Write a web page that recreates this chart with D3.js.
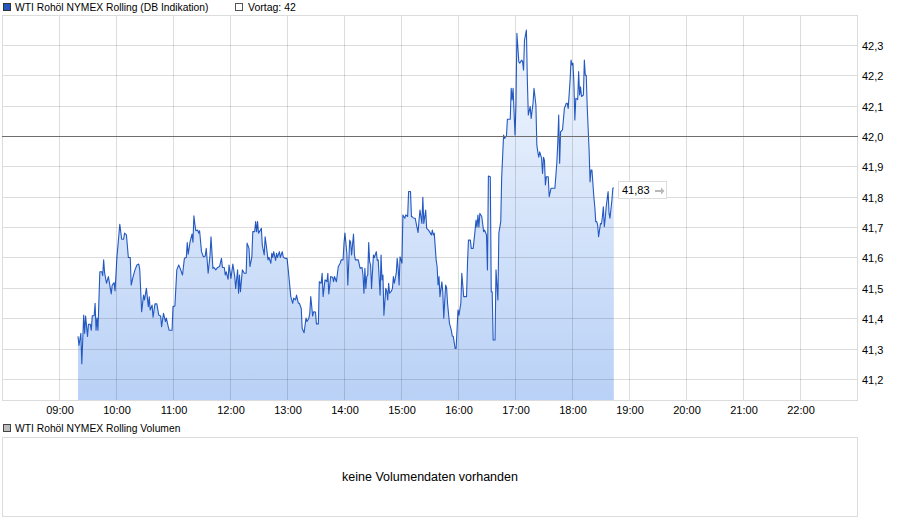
<!DOCTYPE html>
<html><head><meta charset="utf-8">
<script src="https://cdn.jsdelivr.net/npm/d3@7/dist/d3.min.js"></script>
<style>
html,body{margin:0;padding:0;background:#fff;}
svg{display:block;font-family:"Liberation Sans",Arial,sans-serif;}
</style></head>
<body>
<svg id="chart" width="900" height="526"></svg>
<script>
const seriesName = "WTI Rohöl NYMEX Rolling (DB Indikation)";
const prevName = "Vortag: 42";
const volumeName = "WTI Rohöl NYMEX Rolling Volumen";
const volumeNote = "keine Volumendaten vorhanden";
const prevClose = 42.0;
const lastLabel = "41,83";
const xTickLabels = ["09:00","10:00","11:00","12:00","13:00","14:00","15:00","16:00","17:00","18:00","19:00","20:00","21:00","22:00"];
const yTickValues = [41.2,41.3,41.4,41.5,41.6,41.7,41.8,41.9,42.0,42.1,42.2,42.3];

const times = [
"09:20","09:21","09:23","09:24","09:26","09:27","09:28","09:30","09:31","09:33","09:34","09:35","09:37","09:38","09:39","09:40","09:41","09:43","09:45","09:46","09:47","09:48","09:50","09:52","09:54","09:55","09:56","09:58","09:59",
"10:01","10:04","10:06","10:08","10:09","10:11","10:13","10:15","10:16","10:18","10:20","10:22","10:24","10:25","10:27","10:29","10:30","10:32","10:34","10:35","10:36","10:38","10:39","10:41","10:43","10:45","10:47","10:48","10:50","10:52","10:53","10:55","10:56","10:59",
"11:00","11:02","11:04","11:06","11:08","11:10","11:12","11:14","11:15","11:16","11:18","11:20","11:21","11:22","11:23","11:24","11:26","11:27","11:28","11:30","11:32","11:34","11:35","11:37","11:39","11:40","11:42","11:43","11:45","11:47","11:49","11:51","11:52","11:54","11:55","11:56","11:58","11:59",
"12:01","12:03","12:05","12:06","12:08","12:09","12:10","12:11","12:13","12:15","12:17","12:18","12:20","12:21","12:23","12:24","12:26","12:27","12:28","12:29","12:30","12:32","12:33","12:34","12:36","12:37","12:39","12:40","12:41","12:43","12:44","12:45","12:46","12:48","12:49","12:50","12:52","12:53","12:55","12:56","12:58",
"13:00","13:01","13:02","13:04","13:06","13:07","13:09","13:10","13:12","13:13","13:15","13:16","13:18","13:20","13:21","13:23","13:24","13:25","13:27","13:28","13:30","13:31","13:33","13:34","13:36","13:37","13:38","13:40","13:42","13:43","13:44","13:46","13:48","13:49","13:50","13:52","13:54","13:56","13:57","13:59",
"14:00","14:01","14:03","14:04","14:06","14:07","14:08","14:10","14:11","14:12","14:15","14:17","14:19","14:20","14:21","14:22","14:23","14:24","14:25","14:26","14:27","14:28","14:29","14:31","14:32","14:34","14:35","14:36","14:38","14:39","14:40","14:41","14:42","14:44","14:45","14:46","14:47","14:48","14:50","14:51","14:52","14:53","14:55","14:56","14:57","14:58","14:59",
"15:01","15:02","15:04","15:05","15:07","15:08","15:10","15:11","15:12","15:13","15:15","15:16","15:18","15:19","15:20","15:22","15:23","15:24","15:26","15:27","15:29","15:30","15:32","15:33","15:34","15:35","15:37","15:38","15:39","15:40","15:41","15:43","15:44","15:45","15:47","15:48","15:49","15:51","15:53","15:54","15:55","15:57","15:58",
"16:00","16:01","16:03","16:04","16:06","16:09","16:10","16:11","16:13","16:14","16:16","16:18","16:19","16:20","16:21","16:22","16:23","16:25","16:27","16:28","16:30","16:31","16:32","16:34","16:35","16:36","16:37","16:39","16:40","16:42","16:43","16:45","16:46","16:48","16:49","16:51","16:52","16:53","16:55","16:56","16:57","16:58",
"17:00","17:01","17:02","17:04","17:05","17:07","17:08","17:09","17:10","17:12","17:13","17:14","17:16","17:17","17:19","17:20","17:22","17:23","17:24","17:25","17:26","17:28","17:29","17:30","17:31","17:32","17:33","17:35","17:36","17:38","17:42","17:44","17:45","17:46","17:47","17:48","17:50","17:52","17:54","17:55","17:56","17:58","17:59",
"18:00","18:01","18:02","18:03","18:04","18:06","18:07","18:08","18:09","18:10","18:12","18:13","18:14","18:15","18:16","18:18","18:19","18:20","18:21","18:23","18:24","18:25","18:26","18:27","18:28","18:30","18:31","18:32","18:33","18:34","18:35","18:36","18:38","18:39","18:40","18:42","18:43","18:44"
];
const prices = [
41.34,41.31,41.35,41.25,41.41,41.35,41.407,41.34,41.38,41.38,41.36,41.408,41.408,41.449,41.36,41.40,41.36,41.553,41.553,41.54,41.592,41.549,41.515,41.537,41.498,41.48,41.509,41.517,41.49,
41.602,41.709,41.66,41.66,41.68,41.674,41.60,41.60,41.509,41.537,41.559,41.575,41.578,41.56,41.421,41.476,41.46,41.498,41.438,41.47,41.427,41.443,41.403,41.447,41.447,41.41,41.407,41.372,41.416,41.389,41.40,41.372,41.36,41.36,
41.438,41.44,41.559,41.575,41.56,41.542,41.597,41.60,41.649,41.611,41.652,41.677,41.65,41.737,41.71,41.688,41.69,41.68,41.688,41.619,41.602,41.605,41.63,41.548,41.608,41.668,41.564,41.567,41.559,41.567,41.57,41.597,41.567,41.567,41.542,41.553,41.528,41.575,
41.531,41.578,41.537,41.498,41.559,41.482,41.542,41.487,41.559,41.548,41.548,41.647,41.63,41.57,41.602,41.685,41.685,41.718,41.685,41.718,41.68,41.69,41.696,41.641,41.608,41.668,41.619,41.592,41.60,41.581,41.614,41.60,41.619,41.59,41.614,41.60,41.619,41.60,41.619,41.602,41.597,
41.597,41.57,41.537,41.471,41.449,41.466,41.46,41.476,41.449,41.449,41.432,41.366,41.352,41.40,41.389,41.40,41.416,41.471,41.407,41.421,41.42,41.381,41.381,41.52,41.515,41.548,41.471,41.526,41.52,41.548,41.48,41.537,41.535,41.52,41.537,41.52,41.57,41.581,41.592,41.592,
41.647,41.68,41.614,41.509,41.657,41.65,41.608,41.677,41.608,41.592,41.592,41.564,41.567,41.542,41.482,41.564,41.498,41.537,41.542,41.649,41.586,41.575,41.498,41.608,41.60,41.619,41.59,41.592,41.476,41.608,41.526,41.542,41.41,41.498,41.49,41.46,41.515,41.482,41.49,41.498,41.537,41.515,41.548,41.597,41.564,41.509,41.602,
41.581,41.74,41.729,41.74,41.735,41.817,41.817,41.734,41.734,41.73,41.729,41.712,41.682,41.723,41.756,41.712,41.798,41.712,41.756,41.696,41.69,41.685,41.674,41.69,41.674,41.68,41.592,41.57,41.509,41.537,41.471,41.52,41.487,41.40,41.509,41.50,41.449,41.383,41.36,41.341,41.34,41.30,41.30,
41.427,41.41,41.449,41.548,41.471,41.471,41.581,41.657,41.657,41.63,41.63,41.69,41.723,41.70,41.74,41.70,41.745,41.735,41.685,41.69,41.674,41.559,41.868,41.866,41.487,41.487,41.328,41.328,41.559,41.46,41.68,41.718,41.866,42.003,41.992,42.0,42.055,42.055,42.055,42.157,42.119,42.157,
42.003,42.102,42.338,42.245,42.24,42.25,42.245,42.217,42.316,42.349,42.184,42.069,42.097,42.058,42.108,42.157,42.102,41.97,41.948,41.93,41.948,41.927,41.877,41.93,41.92,41.839,41.866,41.866,41.80,41.828,41.828,41.91,41.976,42.069,41.91,42.014,42.02,42.091,42.108,42.108,42.091,42.184,42.25,
42.234,42.24,42.174,42.053,42.124,42.12,42.212,42.135,42.162,42.13,42.135,42.25,42.20,42.2,42.097,41.954,41.849,41.888,41.888,41.80,41.767,41.718,41.718,41.707,41.668,41.712,41.71,41.734,41.767,41.701,41.73,41.767,41.817,41.745,41.729,41.789,41.828,41.83
];

const parseT = d3.timeParse("%Y-%m-%d %H:%M");
const day = "2020-06-15";
const data = times.map((t,i)=>({t: parseT(day+" "+t), v: prices[i]}));

const svg = d3.select("#chart");
const L = 2, R = 858, T = 15, B = 401;

const x = d3.scaleTime()
  .domain([parseT(day+" 08:00"), parseT(day+" 23:00")])
  .range([2, 857]);
const y = d3.scaleLinear().domain([41.1271, 42.3986]).range([B, T]);

const defs = svg.append("defs");
const grad = defs.append("linearGradient").attr("id","ag")
  .attr("gradientUnits","userSpaceOnUse").attr("x1",0).attr("x2",0).attr("y1",T).attr("y2",B);
grad.append("stop").attr("offset","0%").attr("stop-color","#f4f8fe");
grad.append("stop").attr("offset","100%").attr("stop-color","#b9d1f6");
defs.append("clipPath").attr("id","clip").append("rect")
  .attr("x",L).attr("y",T).attr("width",R-L).attr("height",B-T);

// legend top
svg.append("rect").attr("x",3.5).attr("y",3.5).attr("width",7).attr("height",7)
  .attr("fill","#2457bd").attr("stroke","#333");
svg.append("text").attr("x",15).attr("y",11).attr("font-size",10.3).attr("fill","#000").text(seriesName);
svg.append("rect").attr("x",235.5).attr("y",3.5).attr("width",7).attr("height",7)
  .attr("fill","#fff").attr("stroke","#555");
svg.append("text").attr("x",248).attr("y",11).attr("font-size",10.5).attr("fill","#000").text(prevName);

// area + line
const g = svg.append("g").attr("clip-path","url(#clip)");
g.append("path").datum(data)
  .attr("d", d3.area().x(d=>x(d.t)).y0(B).y1(d=>y(d.v)))
  .attr("fill","url(#ag)");

// grid
const gridC = "rgba(0,0,0,0.135)";
const hourDates = xTickLabels.map(h=>parseT(day+" "+h));
svg.append("g").selectAll("line.v").data(hourDates).join("line")
  .attr("x1",d=>Math.round(x(d))+0.5).attr("x2",d=>Math.round(x(d))+0.5)
  .attr("y1",T).attr("y2",B).attr("stroke",gridC);
svg.append("g").selectAll("line.h").data(yTickValues.filter(v=>v!==prevClose)).join("line")
  .attr("x1",L).attr("x2",R)
  .attr("y1",d=>Math.round(y(d))+0.5).attr("y2",d=>Math.round(y(d))+0.5).attr("stroke",gridC);
// frame
svg.append("rect").attr("x",L+0.5).attr("y",T+0.5).attr("width",R-L-1).attr("height",B-T-1)
  .attr("fill","none").attr("stroke","#dcdcdc");
// previous close line
svg.append("line").attr("x1",L).attr("x2",R)
  .attr("y1",Math.round(y(prevClose))+0.5).attr("y2",Math.round(y(prevClose))+0.5)
  .attr("stroke","#6e6e6e");

g.append("path").datum(data)
  .attr("d", d3.line().x(d=>x(d.t)).y(d=>y(d.v)))
  .attr("fill","none").attr("stroke","#2459c2").attr("stroke-width",1.1).attr("stroke-linejoin","round");

// axes labels
const fmtY = d3.format(".1f");
svg.append("g").selectAll("text").data(yTickValues).join("text")
  .attr("x",862).attr("y",d=>Math.round(y(d))+4.5).attr("font-size",11).attr("fill","#000")
  .text(d=>fmtY(d).replace(".",","));
svg.append("g").selectAll("text").data(hourDates).join("text")
  .attr("x",d=>x(d)+1).attr("y",414).attr("text-anchor","middle").attr("font-size",11).attr("fill","#000")
  .text((d,i)=>xTickLabels[i]);

// last value label
const last = data[data.length-1];
const ly = Math.round(y(last.v)) + 3;
svg.append("rect").attr("x",618.5).attr("y",ly-9.5).attr("width",48).attr("height",17)
  .attr("fill","#fff").attr("stroke","#dcdcdc");
svg.append("text").attr("x",622).attr("y",ly+3).attr("font-size",11).attr("fill","#000").text(lastLabel);
svg.append("path").attr("d",`M655,${ly-1}h6v-2.5l3.5,3.5l-3.5,3.5v-2.5h-6z`).attr("fill","#b8b8b8");

// volume panel
svg.append("rect").attr("x",3.5).attr("y",424.5).attr("width",7).attr("height",7)
  .attr("fill","#bdbdbd").attr("stroke","#444");
svg.append("text").attr("x",15).attr("y",432).attr("font-size",10.3).attr("fill","#000").text(volumeName);
svg.append("rect").attr("x",L+0.5).attr("y",437.5).attr("width",R-L-1).attr("height",79)
  .attr("fill","none").attr("stroke","#dcdcdc");
svg.append("text").attr("x",(L+R)/2).attr("y",481).attr("text-anchor","middle").attr("font-size",12.5)
  .attr("fill","#000").text(volumeNote);
</script>
</body></html>
